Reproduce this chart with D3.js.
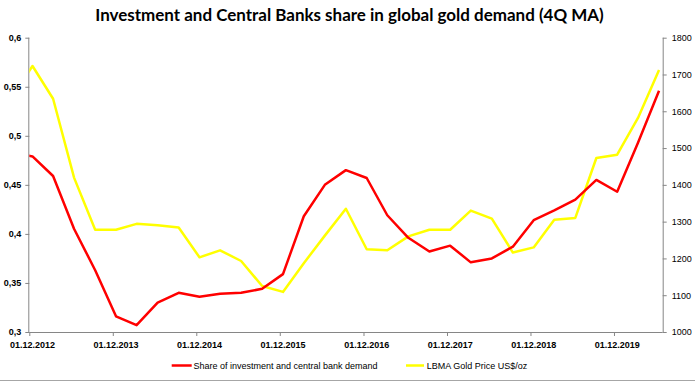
<!DOCTYPE html>
<html>
<head>
<meta charset="utf-8">
<script src="https://cdn.jsdelivr.net/npm/d3@7"></script>
<style>
  html, body { margin: 0; padding: 0; background: #fff; }
  svg { display: block; }
</style>
</head>
<body>
<svg id="chart" width="695" height="383"></svg>
<script>
// ---- Data (quarterly, 4Q moving average) ----
const dates = [
  "2012-09-15","2012-12-15",
  "2013-03-15","2013-06-15","2013-09-15","2013-12-15",
  "2014-03-15","2014-06-15","2014-09-15","2014-12-15",
  "2015-03-15","2015-06-15","2015-09-15","2015-12-15",
  "2016-03-15","2016-06-15","2016-09-15","2016-12-15",
  "2017-03-15","2017-06-15","2017-09-15","2017-12-15",
  "2018-03-15","2018-06-15","2018-09-15","2018-12-15",
  "2019-03-15","2019-06-15","2019-09-15","2019-12-15",
  "2020-03-15","2020-06-15"
];
const shareValues = [
  0.483, 0.479,
  0.459, 0.405, 0.363, 0.316,
  0.307, 0.330, 0.340, 0.336,
  0.339, 0.340, 0.344, 0.359,
  0.418, 0.450, 0.465, 0.457,
  0.419, 0.396, 0.382, 0.388,
  0.371, 0.375, 0.387, 0.414,
  0.424, 0.435, 0.455, 0.443,
  0.493, 0.546
];
const goldPrice = [
  1638, 1723,
  1634, 1419, 1278, 1278,
  1294, 1290, 1284, 1203,
  1222, 1193, 1125, 1109,
  1187, 1262, 1335, 1225,
  1222, 1260, 1278, 1278,
  1330, 1308, 1216, 1230,
  1305, 1310, 1473, 1482,
  1582, 1712
];
const xTickLabels = ["01.12.2012","01.12.2013","01.12.2014","01.12.2015","01.12.2016","01.12.2017","01.12.2018","01.12.2019"];
const leftTicks = [0.3, 0.35, 0.4, 0.45, 0.5, 0.55, 0.6];
const rightTicks = [1000, 1100, 1200, 1300, 1400, 1500, 1600, 1700, 1800];
const titleText = "Investment and Central Banks share in global gold demand (4Q MA)";
const seriesNames = ["Share of investment and central bank demand", "LBMA Gold Price US$/oz"];
const seriesColors = ["#FF0000", "#FFFF00"];

// ---- Layout ----
const svg = d3.select("#chart");
const W = 695, H = 383;
const plot = { left: 29.3, right: 662.7, top: 37.7, bottom: 332 };
const parse = d3.timeParse("%Y-%m-%d");
const parseTick = d3.timeParse("%d.%m.%Y");

const x = d3.scaleTime()
  .domain([parseTick("01.12.2012"), parseTick("01.07.2020")])
  .range([plot.left, plot.right]);
const yL = d3.scaleLinear().domain([0.3, 0.6]).range([plot.bottom, plot.top]);
const yR = d3.scaleLinear().domain([1000, 1800]).range([plot.bottom, plot.top]);

const FONT = "'Liberation Sans', Arial, sans-serif";
const axisColor = "#868686";

svg.append("rect").attr("width", W).attr("height", H).attr("fill", "#fff");

// spreadsheet cell line at bottom
svg.append("line").attr("x1", 0).attr("x2", W).attr("y1", 380.5).attr("y2", 380.5)
  .attr("stroke", "#a6a6a6").attr("stroke-width", 1);

// Title
const title = svg.append("text")
  .attr("x", 349.5).attr("y", 21)
  .attr("text-anchor", "middle")
  .attr("font-family", "Lato, 'Open Sans', sans-serif")
  .attr("font-weight", "bold")
  .attr("font-size", 17)
  .attr("fill", "#000")
  .text(titleText);
const tw = title.node().getComputedTextLength();
title.attr("font-size", 17 * 509 / tw);

// clip path for the lines
svg.append("defs").append("clipPath").attr("id", "plotClip")
  .append("rect").attr("x", plot.left).attr("y", plot.top - 5)
  .attr("width", plot.right - plot.left).attr("height", plot.bottom - plot.top + 10);

// Axes
const xTickDates = xTickLabels.map(parseTick);
const xAxis = d3.axisBottom(x).tickValues(xTickDates).tickSize(4).tickFormat(() => "");
const gx = svg.append("g").attr("transform", `translate(0,${plot.bottom})`).call(xAxis);
gx.select(".domain").attr("stroke", axisColor).attr("d", `M${plot.left},0.5H${plot.right}`);
gx.selectAll(".tick line").attr("stroke", axisColor);
// x labels (centered a half month after the tick, as in Excel date axis)
svg.append("g").selectAll("text").data(xTickDates).join("text")
  .attr("x", d => x(d) + 3.3)
  .attr("y", 348)
  .attr("text-anchor", "middle")
  .attr("font-family", FONT).attr("font-weight", "bold").attr("font-size", 9)
  .attr("fill", "#000")
  .text((d, i) => xTickLabels[i]);

const yAxisL = d3.axisLeft(yL).tickValues(leftTicks).tickSize(4)
  .tickFormat(d => d3.format("")(+d.toFixed(2)).replace(".", ","));
const gL = svg.append("g").attr("transform", `translate(${plot.left},0)`).call(yAxisL);
gL.select(".domain").attr("stroke", axisColor).attr("d", `M-0.5,${plot.top}V${plot.bottom}`);
gL.selectAll(".tick line").attr("stroke", axisColor);
gL.selectAll(".tick text").attr("font-family", FONT).attr("font-weight", "bold")
  .attr("font-size", 9).attr("fill", "#000").attr("x", -8);

const yAxisR = d3.axisRight(yR).tickValues(rightTicks).tickSize(4).tickFormat(d3.format("d"));
const gR = svg.append("g").attr("transform", `translate(${plot.right},0)`).call(yAxisR);
gR.select(".domain").attr("stroke", axisColor).attr("d", `M0.5,${plot.top}V${plot.bottom}`);
gR.selectAll(".tick line").attr("stroke", axisColor);
gR.selectAll(".tick text").attr("font-family", FONT)
  .attr("font-size", 9).attr("fill", "#000").attr("x", 9);

svg.selectAll(".domain").attr("fill", "none");

// Lines
const pts = dates.map((d, i) => ({ date: parse(d), share: shareValues[i], price: goldPrice[i] }));
const lines = svg.append("g").attr("clip-path", "url(#plotClip)");
lines.append("path").datum(pts)
  .attr("fill", "none").attr("stroke", seriesColors[1]).attr("stroke-width", 2.5)
  .attr("stroke-linejoin", "round")
  .attr("d", d3.line().x(d => x(d.date)).y(d => yR(d.price)));
lines.append("path").datum(pts)
  .attr("fill", "none").attr("stroke", seriesColors[0]).attr("stroke-width", 2.5)
  .attr("stroke-linejoin", "round")
  .attr("d", d3.line().x(d => x(d.date)).y(d => yL(d.share)));

// Legend
const legendItems = [
  { name: seriesNames[0], color: seriesColors[0], x0: 171.7, x1: 191.7, tx: 193.5 },
  { name: seriesNames[1], color: seriesColors[1], x0: 406, x1: 424, tx: 426.7 }
];
const lg = svg.append("g");
legendItems.forEach(it => {
  lg.append("line").attr("x1", it.x0).attr("x2", it.x1).attr("y1", 365.5).attr("y2", 365.5)
    .attr("stroke", it.color).attr("stroke-width", 2.5);
  lg.append("text").attr("x", it.tx).attr("y", 368.7)
    .attr("font-family", FONT).attr("font-size", 9).attr("fill", "#000")
    .text(it.name);
});
</script>
</body>
</html>
